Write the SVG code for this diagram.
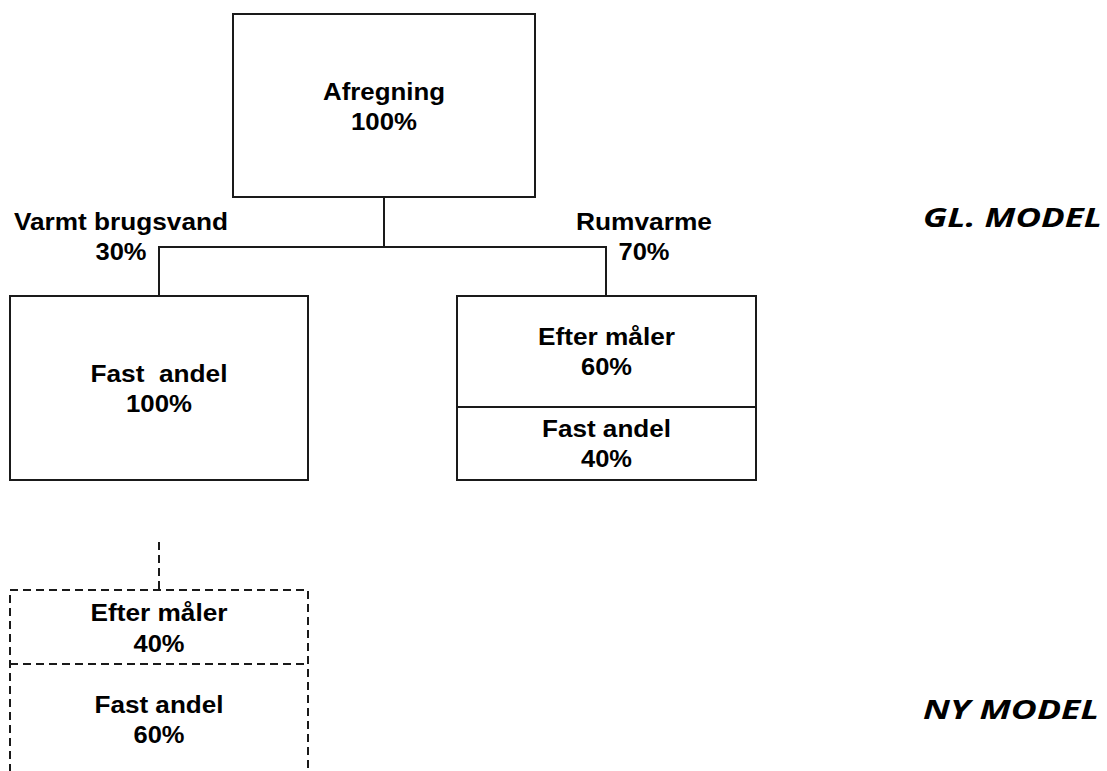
<svg xmlns="http://www.w3.org/2000/svg" width="1107" height="771" viewBox="0 0 1107 771">
<style>
.box{fill:#fff;stroke:#1a1a1a;stroke-width:2}
.dbox{fill:none;stroke:#1a1a1a;stroke-width:2;stroke-dasharray:8 5}
.ln{fill:none;stroke:#1a1a1a;stroke-width:2}
.dln{fill:none;stroke:#1a1a1a;stroke-width:2;stroke-dasharray:8 5}
.t{font-family:"Liberation Sans",Arial,sans-serif;font-weight:bold;font-size:23.5px;fill:#000;text-anchor:middle}
.m{font-family:"Open Sans",Lato,sans-serif;font-weight:bold;font-style:italic;font-size:26px;fill:#000;text-anchor:end}
</style>
<rect width="1107" height="771" fill="#fff"/>
<g id="connectors">
<path class="ln" d="M384 197V247M159 296V247H606V296"/>
<path class="dln" d="M159 542V590"/>
</g>
<g id="afregning">
<rect class="box" x="233" y="14" width="302" height="183"/>
<text class="t" x="384" y="100" textLength="122" lengthAdjust="spacingAndGlyphs">Afregning</text>
<text class="t" x="384" y="130" textLength="66" lengthAdjust="spacingAndGlyphs">100%</text>
</g>
<g id="label-varmt">
<text class="t" x="121" y="230" textLength="214" lengthAdjust="spacingAndGlyphs">Varmt brugsvand</text>
<text class="t" x="121" y="260" textLength="51" lengthAdjust="spacingAndGlyphs">30%</text>
</g>
<g id="label-rum">
<text class="t" x="644" y="230" textLength="136" lengthAdjust="spacingAndGlyphs">Rumvarme</text>
<text class="t" x="644" y="260" textLength="51" lengthAdjust="spacingAndGlyphs">70%</text>
</g>
<g id="fast-andel-left">
<rect class="box" x="10" y="296" width="298" height="184"/>
<text class="t" x="159" y="382" textLength="137" lengthAdjust="spacingAndGlyphs" xml:space="preserve">Fast  andel</text>
<text class="t" x="159" y="412" textLength="66" lengthAdjust="spacingAndGlyphs">100%</text>
</g>
<g id="rumvarme-box">
<rect class="box" x="457" y="296" width="299" height="184"/>
<line class="ln" x1="457" y1="407" x2="756" y2="407"/>
<text class="t" x="606.5" y="345" textLength="137" lengthAdjust="spacingAndGlyphs">Efter måler</text>
<text class="t" x="606.5" y="375" textLength="51" lengthAdjust="spacingAndGlyphs">60%</text>
<text class="t" x="606.5" y="437" textLength="129" lengthAdjust="spacingAndGlyphs">Fast andel</text>
<text class="t" x="606.5" y="467" textLength="51" lengthAdjust="spacingAndGlyphs">40%</text>
</g>
<g id="ny-model-box">
<path class="dbox" d="M10 785V590H308V785"/>
<line class="dln" x1="10" y1="664" x2="308" y2="664"/>
<text class="t" x="159" y="621" textLength="137" lengthAdjust="spacingAndGlyphs">Efter måler</text>
<text class="t" x="159" y="652" textLength="51" lengthAdjust="spacingAndGlyphs">40%</text>
<text class="t" x="159" y="713" textLength="129" lengthAdjust="spacingAndGlyphs">Fast andel</text>
<text class="t" x="159" y="743" textLength="51" lengthAdjust="spacingAndGlyphs">60%</text>
</g>
<g id="gl-model">
<text class="m" x="1102" y="227" textLength="179" lengthAdjust="spacingAndGlyphs">GL. MODEL</text>
</g>
<g id="ny-model">
<text class="m" x="1099" y="719" textLength="176" lengthAdjust="spacingAndGlyphs">NY MODEL</text>
</g>
</svg>
